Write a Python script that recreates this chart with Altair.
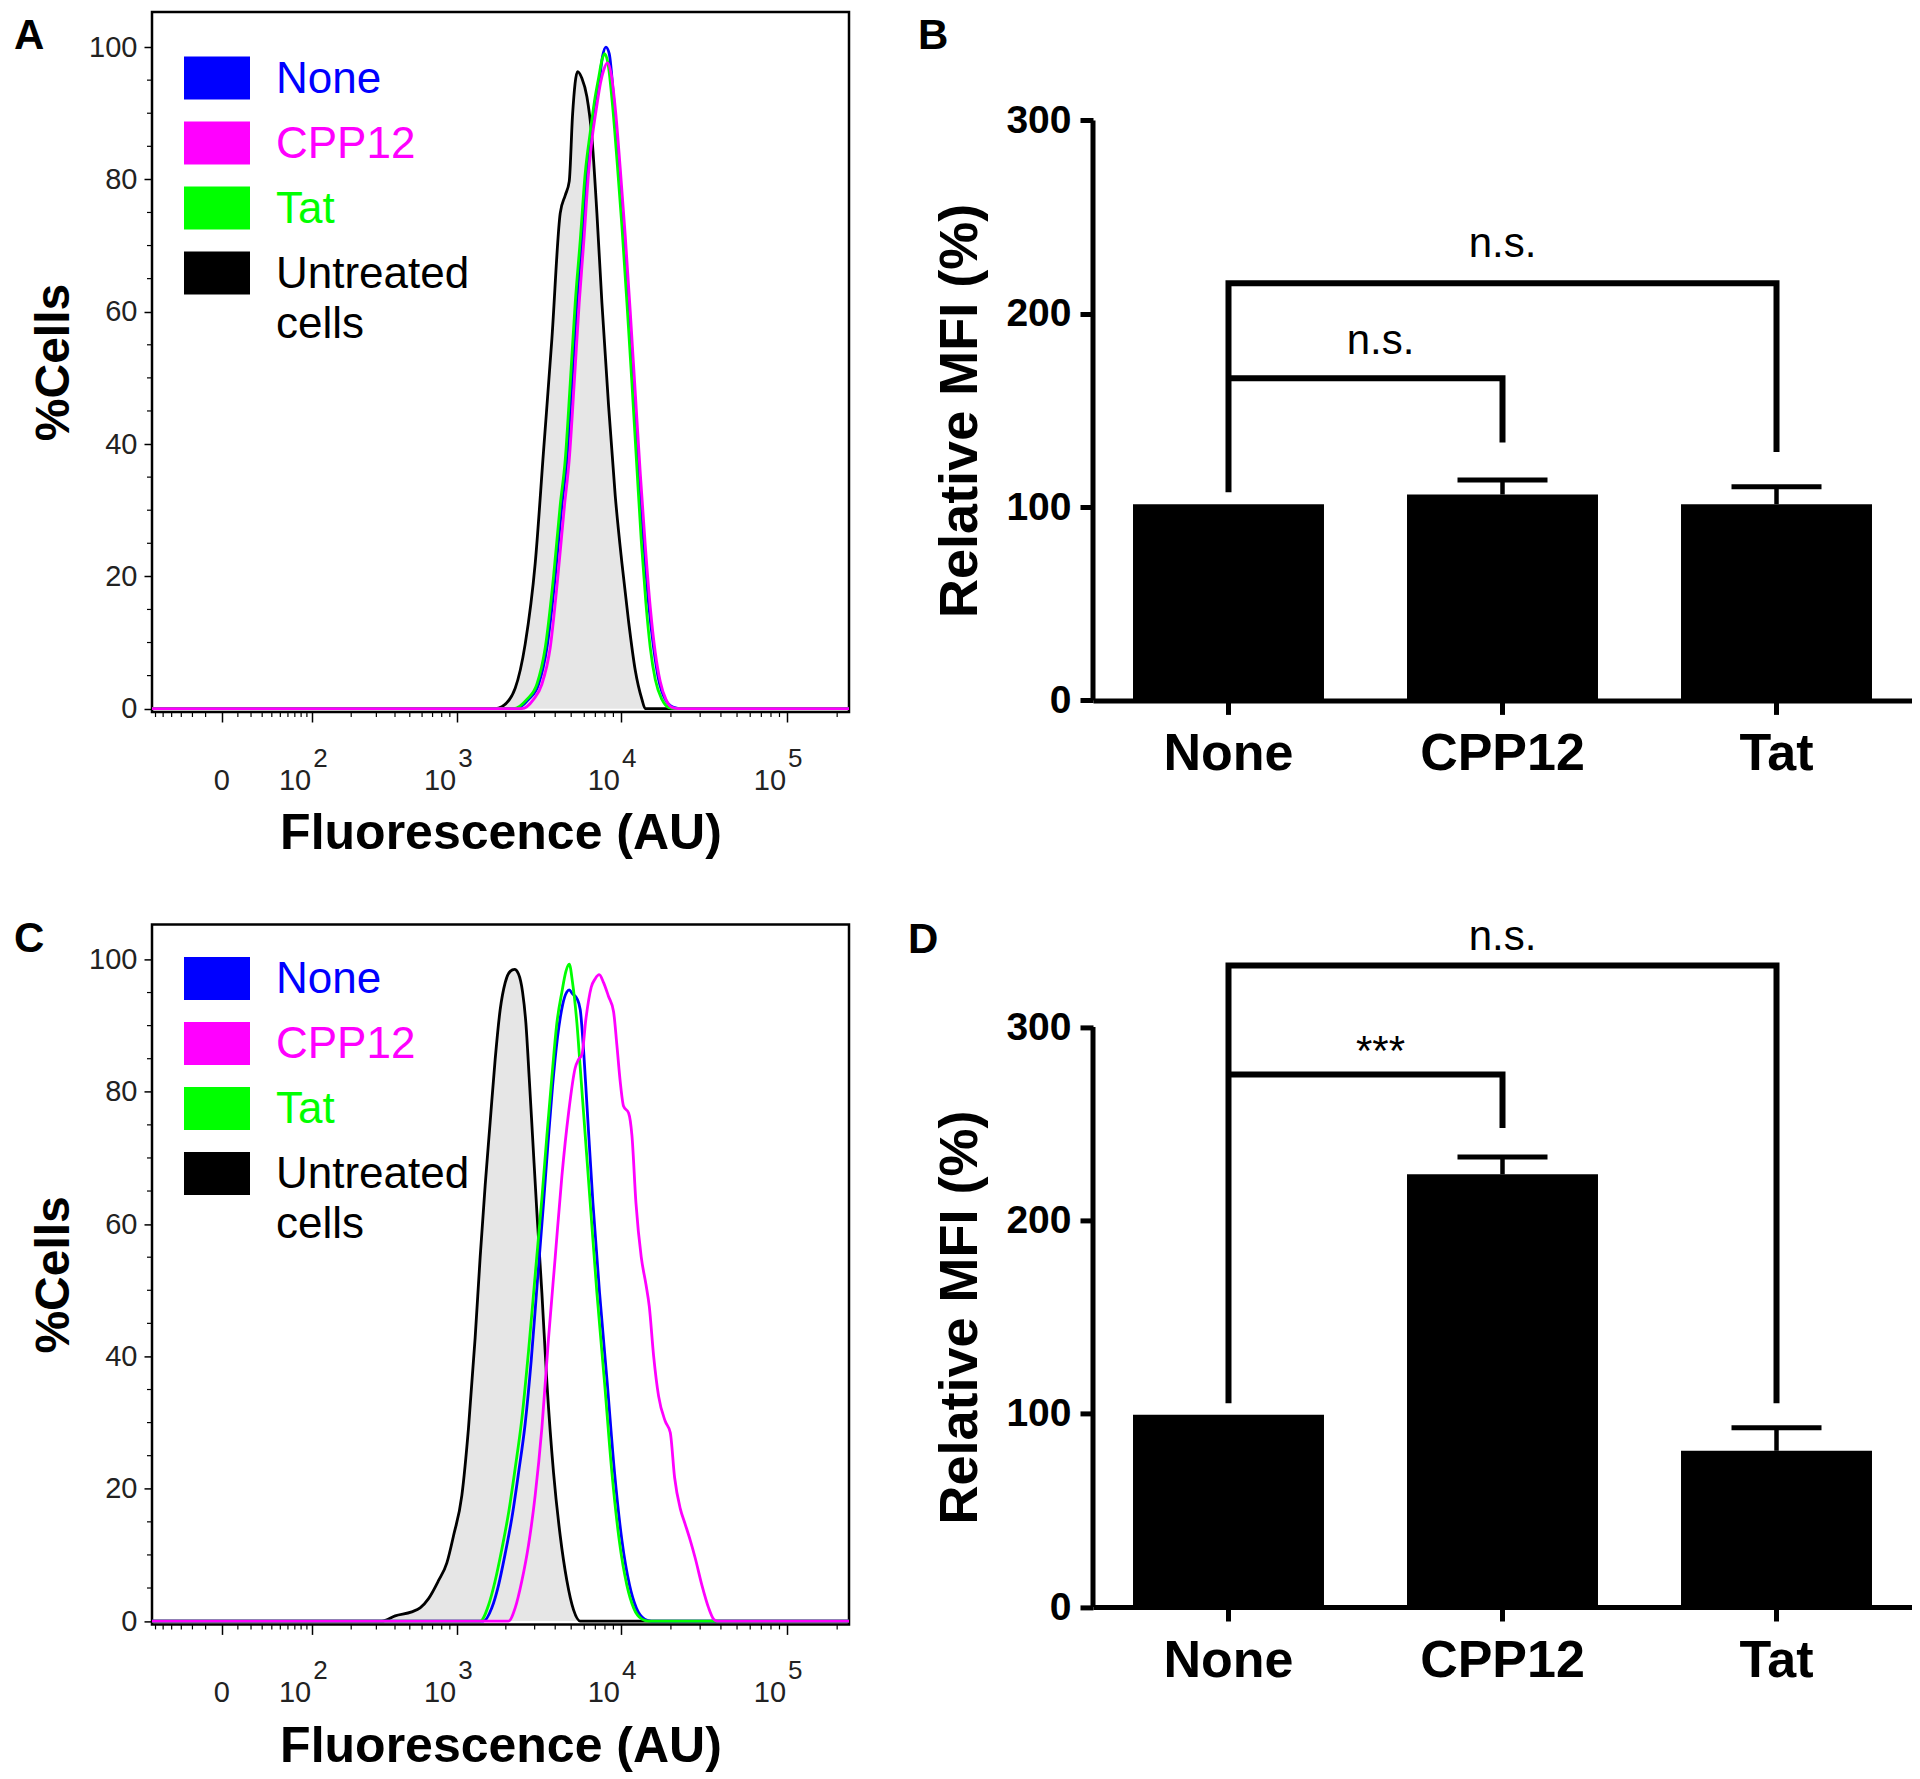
import altair as alt
import pandas as pd

FONT = "Liberation Sans, Arial, Helvetica, sans-serif"

# ---------------- Panels A & C : flow cytometry histograms ----------------
# x = fluorescence (AU), y = % of cells
X_RANGE = [-65, 235600]
Y_RANGE = [-0.5, 105.3]

a_untreated_x = [1721, 1891, 2282, 2628, 3024, 3399, 3819, 4291, 4601, 4866, 5098, 5467, 5806, 6225,
                 6673, 7154, 7669, 8415, 9231, 10132, 11113, 12193, 13378, 14013]
a_untreated_y = [0, 0.3, 3.1, 9.8, 22.0, 39.0, 55.9, 74.9, 77.6, 79.7, 89.8, 96.3, 95.3, 92.5,
                 86.4, 74.9, 61.4, 45.8, 32.2, 22.0, 13.2, 5.8, 1.4, 0]
a_none_x = [2282, 2755, 3168, 3561, 4002, 4392, 4710, 5051, 5416, 5806, 6225, 6612, 6991, 7321, 7741,
            8109, 8493, 9019, 9669, 10369, 11113, 11915, 12773, 13689, 14674, 15733, 16855, 18487,
            20760, 23310]
a_none_y = [0, 1.4, 3.7, 9.2, 20.0, 30.8, 37.6, 49.2, 61.4, 70.8, 81.0, 87.1, 91.9, 93.9, 98.6,
            100, 99.0, 92.5, 83.1, 72.9, 61.4, 49.2, 36.3, 25.4, 15.9, 9.2, 4.4, 1.4, 0.2, 0]
a_tat_x = [2229, 2690, 3095, 3479, 3909, 4291, 4601, 4935, 5292, 5673, 6083, 6520, 6926, 7321, 7669,
           7960, 8337, 8895, 9448, 10132, 10859, 11643, 12482, 13255, 14142, 15023, 16098, 17654,
           19369, 21250]
a_tat_y = [0, 1.4, 3.7, 9.2, 20.0, 30.8, 37.6, 49.2, 61.4, 70.8, 81.0, 87.1, 91.9, 95.3, 98.0,
           99.0, 97.6, 91.2, 83.1, 72.9, 61.4, 49.2, 36.3, 25.4, 15.9, 9.2, 4.4, 1.4, 0.2, 0]
a_cpp12_x = [2507, 2954, 3321, 3731, 4153, 4559, 4866, 5218, 5595, 5971, 6371, 6767, 7154, 7529, 7886,
             8261, 8732, 9318, 9896, 10611, 11376, 12193, 13072, 14013, 15023, 16098, 17250, 18664,
             20285, 22255]
a_cpp12_y = [0, 1.4, 3.7, 9.2, 20.0, 30.8, 37.6, 49.2, 61.4, 70.8, 81.0, 87.1, 91.2, 94.6, 96.6,
             97.6, 95.9, 89.8, 81.7, 71.5, 60.0, 47.8, 35.6, 24.7, 15.3, 8.5, 4.1, 1.4, 0.2, 0]

c_untreated_x = [327, 401, 515, 583, 660, 763, 862, 949, 1070, 1177, 1294, 1390, 1493, 1602, 1720,
                 1846, 1982, 2127, 2261, 2392, 2531, 2652, 2778, 2911, 3095, 3320, 3562, 3909, 4290,
                 4709, 5168, 5674]
c_untreated_y = [0, 0.8, 1.4, 2.0, 3.4, 6.1, 8.8, 12.9, 19.0, 29.2, 42.8, 55.0, 65.9, 75.4, 84.9,
                 92.4, 96.5, 98.2, 98.5, 97.8, 95.1, 90.4, 82.2, 73.4, 61.8, 49.6, 36.0, 22.4, 12.9,
                 6.1, 1.7, 0]
c_none_x = [1458, 1641, 1803, 1982, 2178, 2392, 2628, 2859, 3109, 3381, 3612, 3853, 4134, 4432, 4709,
            4865, 5096, 5415, 5674, 5943, 6224, 6769, 7425, 8261, 9147, 10131, 11271, 12368, 13880,
            15228]
c_none_y = [0, 2.0, 5.4, 10.2, 15.6, 22.4, 29.9, 39.4, 51.0, 62.5, 72.0, 80.8, 88.3, 93.1, 95.1,
            95.4, 94.8, 94.1, 92.4, 86.3, 78.1, 63.2, 49.6, 36.0, 22.4, 12.2, 5.4, 2.0, 0.3, 0]
c_tat_x = [1390, 1565, 1720, 1891, 2077, 2282, 2507, 2753, 3022, 3320, 3562, 3817, 4095, 4393, 4645,
           4865, 5096, 5415, 5674, 5943, 6518, 7155, 7961, 8817, 9762, 10859, 11915, 13377, 14675]
c_tat_y = [0, 2.4, 6.1, 10.9, 16.3, 23.1, 30.6, 40.8, 52.3, 63.9, 73.4, 82.2, 90.4, 95.1, 98.2,
           99.3, 96.5, 90.4, 83.6, 76.8, 63.2, 49.6, 36.0, 22.4, 12.2, 5.4, 2.0, 0.3, 0]
c_cpp12_x = [2077, 2282, 2507, 2753, 3022, 3320, 3645, 4001, 4393, 4820, 5287, 5543, 5804, 6138, 6610,
             6991, 7391, 7850, 8414, 9022, 9450, 9898, 10370, 11115, 11643, 12310, 13252, 14141,
             14808, 15731, 16856, 18490, 19819, 21045, 22770, 24185, 26155, 28028, 30751, 33725,
             36143, 37866]
c_cpp12_y = [0, 2.0, 6.1, 11.5, 19.0, 29.2, 42.8, 55.0, 67.3, 76.8, 83.6, 84.9, 85.6, 91.0, 95.8,
             97.1, 97.7, 96.5, 94.4, 92.1, 87.0, 81.5, 77.8, 76.8, 73.4, 63.2, 55.0, 50.9, 47.6,
             40.1, 34.0, 30.2, 28.5, 21.7, 17.0, 14.9, 12.2, 9.5, 5.4, 2.0, 0.3, 0]

legend_labels = ["None", "CPP12", "Tat", "Untreated\ncells"]
legend_colors = ["#0000ff", "#ff00ff", "#00ff00", "#000000"]
series_colors = {"None": "#0000ff", "CPP12": "#ff00ff", "Tat": "#00ff00", "Untreated": "#000000"}

x_major_ticks = [0, 100, 1000, 10000, 100000]
x_minor_ticks = [-60, -50, -40, -30, -20, -10, 10, 20, 30, 40, 50, 60, 70, 80, 90,
                 200, 300, 400, 500, 600, 700, 800, 900,
                 2000, 3000, 4000, 5000, 6000, 7000, 8000, 9000,
                 20000, 30000, 40000, 50000, 60000, 70000, 80000, 90000, 200000]
x_decade_values = [100, 1000, 10000, 100000]
x_decade_exps = ["2", "3", "4", "5"]
y_major_ticks = [0, 20, 40, 60, 80, 100]
y_minor_ticks = [5, 10, 15, 25, 30, 35, 45, 50, 55, 65, 70, 75, 85, 90, 95]

# ---------------- Panels B & D : relative MFI bars ----------------
categories = ["None", "CPP12", "Tat"]
b_mean = [101.5, 106.5, 101.5]
b_sem = [0, 7.5, 9.0]
d_mean = [99.5, 223.8, 80.8]
d_sem = [0, 9.0, 11.9]

# significance brackets: (bracket id, category, value)
b_bracket_id = ["outer", "outer", "outer", "outer", "inner", "inner", "inner"]
b_bracket_cat = ["None", "None", "Tat", "Tat", "None", "CPP12", "CPP12"]
b_bracket_val = [107.7, 215.8, 215.8, 128.5, 166.6, 166.6, 133.4]
d_bracket_id = ["outer", "outer", "outer", "outer", "inner", "inner", "inner"]
d_bracket_cat = ["None", "None", "Tat", "Tat", "None", "CPP12", "CPP12"]
d_bracket_val = [105.4, 331.9, 331.9, 105.4, 275.4, 275.4, 247.8]

b_outer_label, b_outer_y = "n.s.", 236
b_inner_label, b_inner_y = "n.s.", 186
d_outer_label, d_outer_y = "n.s.", 346.5
d_inner_label, d_inner_y = "***", 287

blank = alt.Data(values=[{}])


def curve_frame(xs, ys):
    return pd.DataFrame({"x": [X_RANGE[0]] + list(xs) + [X_RANGE[1]],
                         "y": [0] + list(ys) + [0]})


def hist_panel(curves, legend_top, letter, letter_y):
    xsc = alt.Scale(type="symlog", constant=40, domain=X_RANGE, nice=False)
    ysc = alt.Scale(domain=Y_RANGE, nice=False, zero=False)
    x_axis = alt.Axis(values=x_major_ticks, labels=False, tickSize=10, tickWidth=1.5,
                      tickColor="black", domain=False, grid=False,
                      title="Fluorescence (AU)", titleFont=FONT, titleFontSize=50,
                      titleFontWeight="bold", titleColor="black", titlePadding=86)
    y_axis = alt.Axis(values=y_major_ticks, tickSize=8, tickWidth=1.5, tickColor="black",
                      domain=False, grid=False, labelFont=FONT, labelFontSize=29,
                      labelColor="#222222", labelPadding=7,
                      title="%Cells", titleFont=FONT, titleFontSize=48,
                      titleFontWeight="bold", titleColor="black", titlePadding=10)
    X = lambda f: alt.X(f, scale=xsc, axis=x_axis, title="Fluorescence (AU)")
    Y = lambda f: alt.Y(f, scale=ysc, axis=y_axis, title="%Cells")
    ux, uy = curves["Untreated"]
    layers = [
        alt.Chart(curve_frame(ux, uy)).mark_area(color="#e6e6e6", interpolate="monotone").encode(
            x=X("x:Q"), y=Y("y:Q"), y2=alt.Y2Datum(0),
        )
    ]
    for name in ["Untreated", "None", "Tat", "CPP12"]:
        cx, cy = curves[name]
        layers.append(
            alt.Chart(curve_frame(cx, cy)).mark_line(
                color=series_colors[name], strokeWidth=2.8, interpolate="monotone").encode(
                x=X("x:Q"), y=Y("y:Q"))
        )
    # minor ticks
    layers.append(
        alt.Chart(pd.DataFrame({"x": x_minor_ticks})).mark_rule(color="black", strokeWidth=1.2).encode(
            x=X("x:Q"), y=alt.value(700), y2=alt.value(705))
    )
    layers.append(
        alt.Chart(pd.DataFrame({"y": y_minor_ticks})).mark_rule(color="black", strokeWidth=1.2).encode(
            y=Y("y:Q"), x=alt.value(-5), x2=alt.value(0))
    )
    # tick labels 0, 10^2 ... 10^5
    layers.append(
        alt.Chart(pd.DataFrame({"x": [0], "t": ["0"]})).mark_text(
            font=FONT, fontSize=29, color="#222222", align="center", baseline="alphabetic").encode(
            x=X("x:Q"), y=alt.value(777.7), text="t:N")
    )
    dec = pd.DataFrame({"x": x_decade_values, "b": ["10"] * 4, "e": x_decade_exps})
    layers.append(
        alt.Chart(dec).mark_text(font=FONT, fontSize=29, color="#222222", align="right",
                                 baseline="alphabetic", dx=-1).encode(
            x=X("x:Q"), y=alt.value(777.7), text="b:N")
    )
    layers.append(
        alt.Chart(dec).mark_text(font=FONT, fontSize=26, color="#222222", align="left",
                                 baseline="alphabetic", dx=1).encode(
            x=X("x:Q"), y=alt.value(754.7), text="e:N")
    )
    # legend
    for i, (lab, col) in enumerate(zip(legend_labels, legend_colors)):
        y0 = legend_top + i * 65
        layers.append(alt.Chart(blank).mark_rect(color=col).encode(
            x=alt.value(32), x2=alt.value(98), y=alt.value(y0), y2=alt.value(y0 + 43)))
        layers.append(alt.Chart(blank).mark_text(
            text=lab, color=col, font=FONT, fontSize=44, align="left", baseline="alphabetic",
            lineBreak="\n", lineHeight=50).encode(x=alt.value(124), y=alt.value(y0 + 36.3)))
    layers.append(alt.Chart(blank).mark_text(
        text=letter, font=FONT, fontSize=42, fontWeight="bold", align="left",
        baseline="alphabetic", color="black").encode(x=alt.value(-138), y=alt.value(letter_y)))
    return alt.layer(*layers).properties(
        width=697, height=700,
        view=alt.ViewBackground(stroke="black", strokeWidth=2.5))


def bar_panel(means, sems, br_id, br_cat, br_val, outer, inner, height, ymax, title_y,
              letter, letter_x, letter_y):
    xsc = alt.Scale(domain=categories, paddingInner=0.303, paddingOuter=0.146)
    ysc = alt.Scale(domain=[0, ymax], nice=False, zero=True)
    x_axis = alt.Axis(domainWidth=5, domainColor="black", tickWidth=5, tickSize=14,
                      tickColor="black", tickBand="center", labelFont=FONT, labelFontSize=52,
                      labelFontWeight="bold", labelColor="black", labelPadding=14, labelAngle=0,
                      title=None, grid=False, zindex=1)
    y_axis = alt.Axis(values=[0, 100, 200, 300], domain=False, grid=False, tickSize=13,
                      tickWidth=5, tickColor="black", labelFont=FONT, labelFontSize=39,
                      labelFontWeight="bold", labelColor="black", labelPadding=9,
                      title="Relative MFI (%)", titleFont=FONT, titleFontSize=54,
                      titleFontWeight="bold", titleColor="black", titlePadding=18,
                      titleY=title_y)
    X = lambda f: alt.X(f, scale=xsc, sort=categories, axis=x_axis, title=None)
    Y = lambda f: alt.Y(f, scale=ysc, axis=y_axis, title="Relative MFI (%)")
    df = pd.DataFrame({"cat": categories, "mean": means, "sem": sems})
    base = alt.Chart(df)
    bars = base.mark_bar(color="black").encode(x=X("cat:N"), y=Y("mean:Q"))
    err = base.transform_filter("datum.sem > 0").transform_calculate(
        upper="datum.mean + datum.sem")
    err_rule = err.mark_rule(color="black", opacity=1, strokeWidth=4.5).encode(
        x=X("cat:N"), y=Y("mean:Q"), y2="upper:Q")
    err_cap = err.mark_tick(color="black", opacity=1, orient="horizontal", size=90,
                            thickness=5).encode(x=X("cat:N"), y=Y("upper:Q"))
    y_line = alt.Chart(blank).mark_rule(color="black", strokeWidth=5).encode(
        x=alt.value(0), y=alt.YDatum(0, scale=ysc, axis=y_axis, title="Relative MFI (%)"),
        y2=alt.Y2Datum(300))
    br = pd.DataFrame({"b": br_id, "cat": br_cat, "v": br_val, "i": list(range(len(br_id)))})
    brackets = alt.Chart(br).mark_line(color="black", strokeWidth=6, strokeJoin="miter",
                                       strokeCap="butt").encode(
        x=X("cat:N"), y=Y("v:Q"), detail="b:N", order="i:Q")
    t_outer = alt.Chart(pd.DataFrame({"cat": ["CPP12"], "v": [outer[1]], "t": [outer[0]]})).mark_text(
        font=FONT, fontSize=42, color="black", align="center", baseline="middle").encode(
        x=X("cat:N"), y=Y("v:Q"), text="t:N")
    t_inner = alt.Chart(pd.DataFrame({"cat": ["None"], "v": [inner[1]], "t": [inner[0]]})).mark_text(
        font=FONT, fontSize=42, color="black", align="center", baseline="middle", dx=152).encode(
        x=X("cat:N"), y=Y("v:Q"), text="t:N")
    let = alt.Chart(blank).mark_text(text=letter, font=FONT, fontSize=42, fontWeight="bold",
                                     align="left", baseline="alphabetic", color="black").encode(
        x=alt.value(letter_x), y=alt.value(letter_y))
    return alt.layer(bars, err_rule, err_cap, brackets, y_line, t_outer, t_inner, let).properties(
        width=819, height=height)


panel_a = hist_panel({"Untreated": (a_untreated_x, a_untreated_y), "None": (a_none_x, a_none_y),
                      "Tat": (a_tat_x, a_tat_y), "CPP12": (a_cpp12_x, a_cpp12_y)},
                     legend_top=44.4, letter="A", letter_y=37)
panel_c = hist_panel({"Untreated": (c_untreated_x, c_untreated_y), "None": (c_none_x, c_none_y),
                      "Tat": (c_tat_x, c_tat_y), "CPP12": (c_cpp12_x, c_cpp12_y)},
                     legend_top=32.6, letter="C", letter_y=27.3)
panel_b = bar_panel(b_mean, b_sem, b_bracket_id, b_bracket_cat, b_bracket_val,
                    (b_outer_label, b_outer_y), (b_inner_label, b_inner_y),
                    height=688.4, ymax=356.1, title_y=398.4, letter="B",
                    letter_x=-175, letter_y=37)
panel_d = bar_panel(d_mean, d_sem, d_bracket_id, d_bracket_cat, d_bracket_val,
                    (d_outer_label, d_outer_y), (d_inner_label, d_inner_y),
                    height=682.6, ymax=353.1, title_y=392.6, letter="D",
                    letter_x=-185, letter_y=28.3)

chart = alt.concat(panel_a, panel_b, panel_c, panel_d, columns=2,
                   spacing={"row": 212.4, "column": 244},
                   bounds="flush", align="each").properties(
    padding={"left": 4, "top": 2, "right": 0, "bottom": 0}, background="white"
).configure_view(stroke=None)

chart.save("out.html", embed_options={"renderer": "svg", "actions": False})
